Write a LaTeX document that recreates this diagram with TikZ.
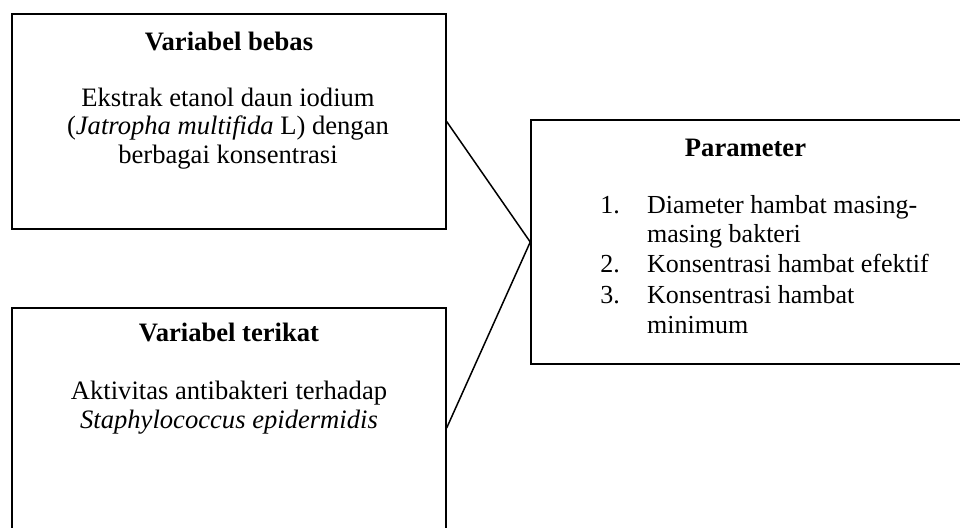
\documentclass[tikz,border=0pt]{standalone}
\usepackage{fontspec}
\setmainfont{Liberation Serif}
\begin{document}
\begin{tikzpicture}[x=0.5pt,y=-0.5pt,
  box/.style={draw,line width=0.75pt,rectangle,inner sep=0pt},
  txt/.style={anchor=base,inner sep=0pt,font=\fontsize{13.3}{15}\selectfont},
  head/.style={txt,font=\fontsize{13.3}{15}\selectfont\bfseries},
  item/.style={txt,anchor=base west,font=\fontsize{13}{15}\selectfont},
  conn/.style={line width=0.75pt}]
\clip (0,0) rectangle (960,527);
% boxes
\node[box,minimum width=216.9pt,minimum height=107.5pt] (bebas) at (229,121.5) {};
\node[box,minimum width=216.9pt,minimum height=120pt] (terikat) at (229,428) {};
\node[box,minimum width=215.5pt,minimum height=122pt] (param) at (746.5,242) {};
% texts box 1
\node[head] (t1) at (229,50.7) {Variabel bebas};
\node[txt] (t2) at (228,106) {Ekstrak etanol daun iodium};
\node[txt] (t3) at (228,134.5) {(\textit{Jatropha multifida} L) dengan};
\node[txt] (t4) at (228,163) {berbagai konsentrasi};
% texts box 2
\node[head] (u1) at (229,341.7) {Variabel terikat};
\node[txt] (u2) at (229,399.3) {Aktivitas antibakteri terhadap};
\node[txt] (u3) at (229,428) {\textit{Staphylococcus epidermidis}};
% texts box 3
\node[head] (p0) at (745.5,156) {Parameter};
\node[item] (n1) at (600,213.3) {1.};
\node[item] (n2) at (600,272.3) {2.};
\node[item] (n3) at (600,303.3) {3.};
\node[item] (p1) at (646.7,213.3) {Diameter hambat masing-};
\node[item] (p2) at (646.7,242.7) {masing bakteri};
\node[item] (p3) at (646.7,272.3) {Konsentrasi hambat efektif};
\node[item] (p4) at (646.7,303.3) {Konsentrasi hambat};
\node[item] (p5) at (646.7,333.3) {minimum};
% connectors
\draw[conn] (bebas.east) -- (param.west);
\draw[conn] (terikat.east) -- (param.west);
\end{tikzpicture}
\end{document}
